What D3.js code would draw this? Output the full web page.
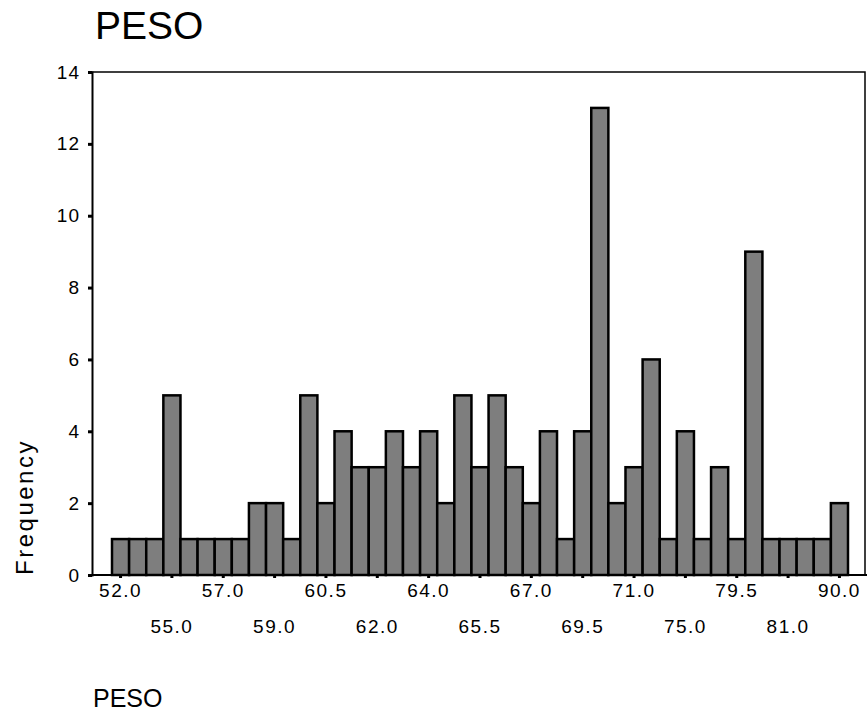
<!DOCTYPE html>
<html>
<head>
<meta charset="utf-8">
<script src="https://cdn.jsdelivr.net/npm/d3@7"></script>
<style>
  html, body { margin: 0; padding: 0; background: #fff; }
  svg { display: block; font-family: "Liberation Sans", Arial, sans-serif; }
</style>
</head>
<body>
<svg id="chart" width="867" height="718"></svg>
<script>
// Weight categories (labels every third bar are read from the chart; the rest are estimated)
const categories = [
  "52.0","53.0","54.0","55.0","55.5","56.0","57.0","57.5","58.0","59.0",
  "59.5","60.0","60.5","61.0","61.5","62.0","62.5","63.0","64.0","64.5",
  "65.0","65.5","66.0","66.5","67.0","68.0","69.0","69.5","70.0","70.5",
  "71.0","72.0","73.0","75.0","76.0","78.0","79.5","80.0","80.5","81.0",
  "83.0","85.0","90.0"
];
const frequencies = [
  1,1,1,5,1,1,1,1,2,2,
  1,5,2,4,3,3,4,3,4,2,
  5,3,5,3,2,4,1,4,13,2,
  3,6,1,4,1,3,1,9,1,1,
  1,1,2
];
const yTicks = [0,2,4,6,8,10,12,14];
const title = "PESO";
const xTitle = "PESO";
const yTitle = "Frequency";

const svg = d3.select("#chart");

const plot = { left: 92, right: 865, top: 72, bottom: 575 };

const x = d3.scaleBand()
  .domain(categories)
  .range([112, 848])
  .padding(0);

const y = d3.scaleLinear()
  .domain([0, 14])
  .range([plot.bottom, plot.top]);

// Frame (top and right)
svg.append("path")
  .attr("d", `M${plot.left},${plot.top}H${plot.right}V${plot.bottom}`)
  .attr("fill", "none")
  .attr("stroke", "#000")
  .attr("stroke-width", 1.5);

// Bars
svg.append("g")
  .selectAll("rect")
  .data(frequencies)
  .join("rect")
  .attr("x", (d, i) => x(categories[i]))
  .attr("y", d => y(d))
  .attr("width", x.bandwidth())
  .attr("height", d => y(0) - y(d))
  .attr("fill", "#7e7e7e")
  .attr("stroke", "#000")
  .attr("stroke-width", 2.5);

// Y axis
const yAxis = svg.append("g")
  .attr("transform", `translate(${plot.left},0)`)
  .call(d3.axisLeft(y).tickValues(yTicks).tickSize(4).tickPadding(8).tickFormat(d3.format("d")));
yAxis.select(".domain").attr("stroke-width", 2);
yAxis.selectAll(".tick line").attr("stroke-width", 3);
yAxis.selectAll(".tick text")
  .attr("font-size", 19)
  .attr("font-family", "Liberation Sans, Arial, sans-serif")
  .attr("letter-spacing", 1)
  .attr("fill", "#000");

// X axis
const shown = categories.filter((c, i) => i % 3 === 0);
const xAxis = svg.append("g")
  .attr("transform", `translate(0,${plot.bottom})`)
  .call(d3.axisBottom(x).tickValues(shown).tickSize(3).tickPadding(6));
xAxis.select(".domain")
  .attr("d", `M${plot.left},0H867`)
  .attr("stroke-width", 2);
xAxis.selectAll(".tick line").attr("stroke-width", 3);
xAxis.selectAll(".tick text")
  .attr("font-size", 19)
  .attr("font-family", "Liberation Sans, Arial, sans-serif")
  .attr("letter-spacing", 1.5)
  .attr("fill", "#000")
  .attr("dy", (d, i) => i % 2 === 0 ? "0.71em" : "2.6em");

// Titles
svg.append("text")
  .attr("x", 95).attr("y", 39)
  .attr("font-size", 39)
  .attr("fill", "#000")
  .text(title);

svg.append("text")
  .attr("x", 93).attr("y", 707)
  .attr("font-size", 25)
  .attr("fill", "#000")
  .text(xTitle);

svg.append("text")
  .attr("transform", "translate(33,507) rotate(-90)")
  .attr("text-anchor", "middle")
  .attr("font-size", 24)
  .attr("letter-spacing", 2.5)
  .attr("fill", "#000")
  .text(yTitle);
</script>
</body>
</html>
